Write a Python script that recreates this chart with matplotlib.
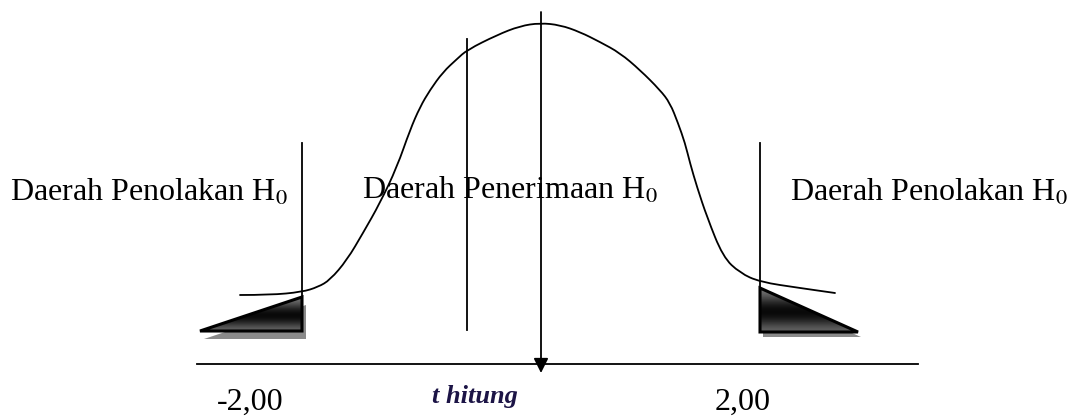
import numpy as np
import matplotlib
matplotlib.use('Agg')
import matplotlib.pyplot as plt
from matplotlib.patches import Polygon, PathPatch
from matplotlib.path import Path

plt.rcParams['font.family'] = ['Liberation Serif', 'DejaVu Serif']
plt.rcParams['mathtext.fontset'] = 'stix'

# ─── 数据（按图像像素坐标读取） ─────────────────────────────────────────
# 分布曲线
curve_x = [240, 270, 302, 318, 330, 347, 363, 380, 397, 410, 420, 430, 443,
           457, 467, 497, 520, 540, 560, 580, 600, 620, 640, 660, 670, 678,
           685, 690, 697, 707, 723, 740, 760, 800, 835]
curve_y = [295, 295, 292, 287, 280, 260, 233, 203, 167, 130, 107, 90, 72,
           59, 50, 35, 26, 23, 25, 32, 42, 53, 70, 90, 103, 123,
           143, 163, 187, 217, 257, 273, 282, 288, 293]

# 临界值线 (x, y_top, y_bottom)
crit_x = [302, 760]
crit_top = [143, 143]
crit_bot = [331, 332]

# 中间两条竖线
inner_x, inner_top, inner_bot = 467, 39, 330
thit_x, thit_top, thit_bot = 541, 12, 373

# 横轴
axis_y = 364
axis_x0, axis_x1 = 197, 918

# 拒绝区三角形
left_tri = [(200, 331), (302, 297), (302, 331)]
right_tri = [(760, 288), (760, 332), (858, 332)]

# 文字
region_labels = ['Daerah Penolakan H$_0$', 'Daerah Penerimaan H$_0$', 'Daerah Penolakan H$_0$']
region_x = [10, 362, 790]
region_y = [201, 199, 201]
tick_labels = ['-2,00', '2,00']
tick_x = [217, 715]
thit_label = 't hitung'

# ─── 绘图 ────────────────────────────────────────────────────────────────
fig = plt.figure(figsize=(10.8, 4.19), dpi=100)
ax = fig.add_axes([0, 0, 1, 1])
ax.axis('off')

lc = 'black'

# 曲线：用二次贝塞尔把读取的点连成平滑线
pts = list(zip(curve_x, curve_y))
verts = [pts[0]]
codes = [Path.MOVETO]
for i in range(1, len(pts) - 1):
    mid = ((pts[i][0] + pts[i + 1][0]) / 2, (pts[i][1] + pts[i + 1][1]) / 2)
    verts += [pts[i], mid]
    codes += [Path.CURVE3, Path.CURVE3]
verts.append(pts[-1])
codes.append(Path.LINETO)
ax.add_patch(PathPatch(Path(verts, codes), facecolor='none', edgecolor=lc,
                       lw=1.3, capstyle='round'))

for x, t, b in zip(crit_x, crit_top, crit_bot):
    ax.plot([x, x], [t, b], color=lc, lw=1.3)
ax.plot([inner_x, inner_x], [inner_top, inner_bot], color=lc, lw=1.3)
ax.plot([axis_x0, axis_x1], [axis_y, axis_y], color=lc, lw=1.3)
ax.annotate('', xy=(thit_x, thit_bot), xytext=(thit_x, thit_top),
            arrowprops=dict(arrowstyle='-|>', color=lc, lw=1.3,
                            mutation_scale=22, shrinkA=0, shrinkB=0))

# 渐变三角形 + 阴影
grad = np.array([0.45, 0.3, 0.12, 0.02, 0.05, 0.2, 0.38]).reshape(-1, 1)
for tri, off in [(left_tri, (4, 8)), (right_tri, (3, 5))]:
    shadow = Polygon([(x + off[0], y + off[1]) for x, y in tri],
                     closed=True, facecolor='#8a8a8a', edgecolor='none', zorder=2)
    ax.add_patch(shadow)
    xs = [p[0] for p in tri]
    ys = [p[1] for p in tri]
    poly = Polygon(tri, closed=True, facecolor='none', edgecolor=lc, lw=2.2,
                   joinstyle='miter', zorder=4)
    ax.add_patch(poly)
    im = ax.imshow(grad, cmap='gray', vmin=0, vmax=1, aspect='auto',
                   extent=(min(xs), max(xs), max(ys), min(ys)),
                   interpolation='bicubic', zorder=3)
    im.set_clip_path(poly)
ax.set_xlim(0, 1080)
ax.set_ylim(419, 0)

for s, x, y in zip(region_labels, region_x, region_y):
    ax.text(x, y, s, fontsize=23, ha='left', va='baseline', color='black')

for s, x in zip(tick_labels, tick_x):
    ax.text(x, 410, s, fontsize=23, ha='left', va='baseline', color='black')
ax.text(432, 403, thit_label, fontsize=19, ha='left', va='baseline',
        style='italic', fontweight='bold', color='#1c1446')

fig.savefig('out.png', dpi=100)
